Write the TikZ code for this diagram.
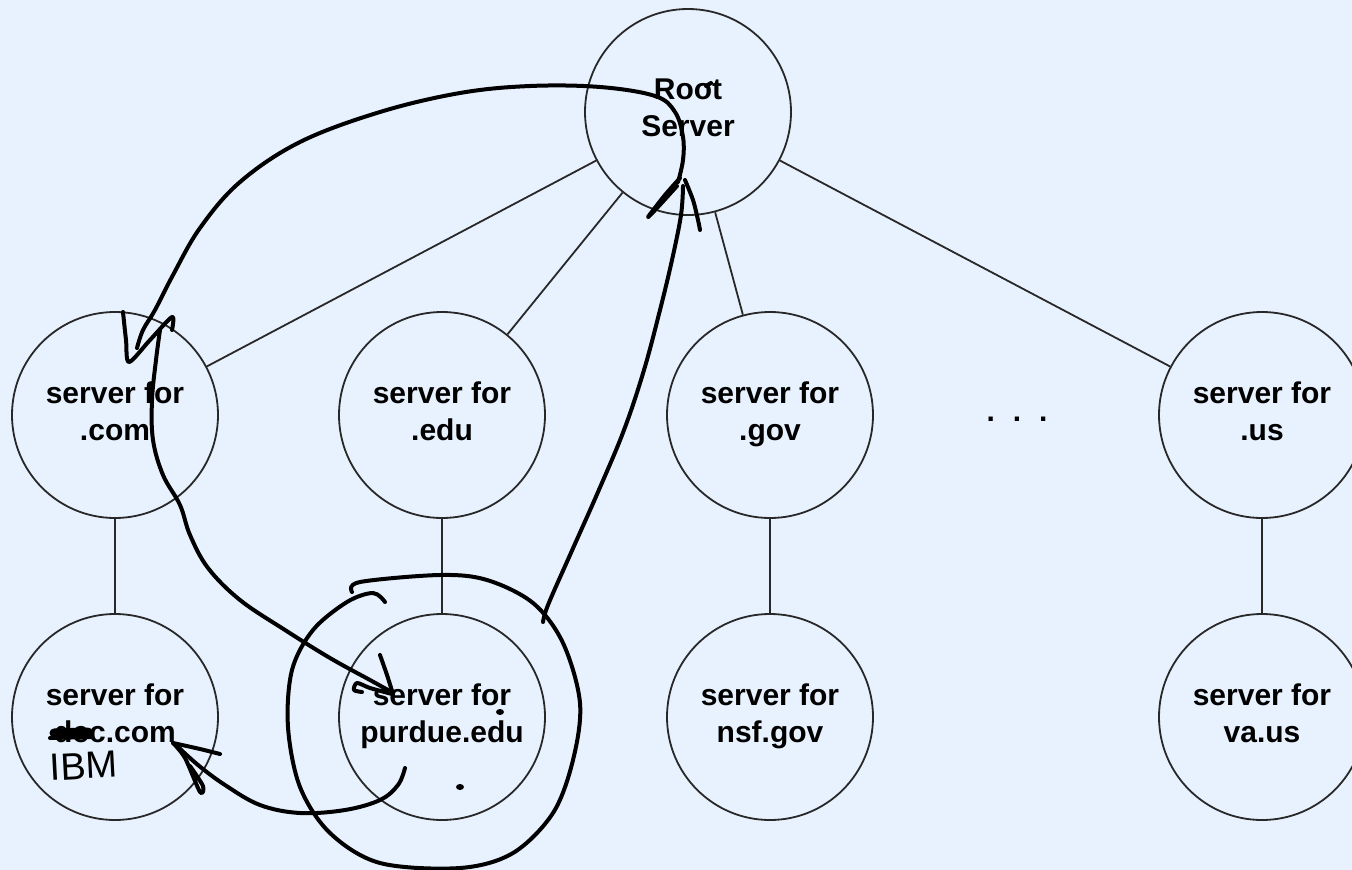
\documentclass[tikz,border=0pt]{standalone}
\usepackage{fontspec}
\setmainfont{Liberation Sans}
\definecolor{bg}{RGB}{232,242,254}
\definecolor{edge}{RGB}{40,40,40}
\tikzset{
  srv/.style={circle,draw=edge,line width=1.8pt,minimum size=206pt,inner sep=0pt},
  lbl/.style={align=center,text=black,text depth=0pt,yshift=4pt,font=\fontsize{30}{37}\selectfont\bfseries},
  link/.style={draw=edge,line width=1.8pt},
  ink/.style={draw=black,line width=4pt,line cap=round,line join=round},
}
\begin{document}
\begin{tikzpicture}[x=1pt,y=-1pt]
\useasboundingbox (0,0) rectangle (1352,870);
\clip (0,0) rectangle (1352,870);
\fill[bg] (0,0) rectangle (1352,870);

\node[srv,label={[lbl]center:Root\\Server}] (root) at (688,112) {};
\node[srv,label={[lbl]center:server for\\.com}] (com) at (115,415) {};
\node[srv,label={[lbl]center:server for\\.edu}] (edu) at (442,415) {};
\node[srv,label={[lbl]center:server for\\.gov}] (gov) at (770,415) {};
\node[srv,label={[lbl]center:server for\\.us}] (us) at (1262,415) {};
\node[srv,label={[lbl]center:server for\\dec.com}] (dec) at (115,717) {};
\node[srv,label={[lbl]center:server for\\purdue.edu}] (purdue) at (442,717) {};
\node[srv,label={[lbl]center:server for\\nsf.gov}] (nsf) at (770,717) {};
\node[srv,label={[lbl]center:server for\\va.us}] (va) at (1262,717) {};
\node[anchor=base,font=\fontsize{30}{37}\selectfont\bfseries] (dots) at (1017,421) {.\hspace{18pt}.\hspace{18pt}.};

\draw[link] (root) -- (com);
\draw[link] (root) -- (edu);
\draw[link] (root) -- (gov);
\draw[link] (root) -- (us);
\draw[link] (com) -- (dec);
\draw[link] (edu) -- (purdue);
\draw[link] (gov) -- (nsf);
\draw[link] (us) -- (va);

% handwritten annotations
% root -> .com
\draw[ink] plot[smooth,tension=0.6] coordinates {(678,182) (683,160) (683,137) (675,112) (655,96) (600,87) (530,86) (460,93) (380,112) (300,142) (240,182) (200,228) (173,275) (155,310) (143,330) (137,348)};
\draw[ink] plot[smooth,tension=0.5] coordinates {(123,312) (126,340) (129,362) (150,340) (172,317) (172,330)};
\draw[ink] (711,83) -- (706,86);
% .com -> purdue
\draw[ink] plot[smooth,tension=0.6] coordinates {(160,330) (156,360) (152,400) (153,440) (163,475) (180,505) (190,535) (208,568) (240,600) (285,630) (330,658) (370,680) (388,690)};
\draw[ink] plot[smooth,tension=0.5] coordinates {(380,655) (387,675) (393,694)};
\draw[ink] plot[smooth,tension=0.5] coordinates {(392,694) (370,688) (357,683) (354,690) (362,692)};
% purdue -> root
\draw[ink] plot[smooth,tension=0.6] coordinates {(543,622) (548,605) (570,555) (598,492) (624,430) (644,370) (660,310) (672,260) (681,215) (683,186)};
\draw[ink] plot[smooth,tension=0.5] coordinates {(680,178) (665,195) (648,217) (657,208) (677,186)};
\draw[ink] plot[smooth,tension=0.5] coordinates {(685,180) (693,200) (698,220) (700,230)};
% purdue -> dec.com
\draw[ink] plot[smooth,tension=0.6] coordinates {(405,768) (398,785) (380,800) (345,810) (300,813) (260,805) (225,785) (198,765) (176,745)};
\draw[ink] plot[smooth,tension=0.5] coordinates {(173,743) (200,749) (220,754)};
\draw[ink] plot[smooth,tension=0.5] coordinates {(173,743) (185,758) (200,792) (203,786) (190,766)};
% circle round purdue
\draw[ink] plot[smooth,tension=0.55] coordinates {(352,592) (360,582) (440,575) (487,580) (533,603) (563,643) (580,703) (573,760) (553,813) (513,853) (460,868) (380,863) (330,833) (300,787) (288,727) (292,670) (313,630) (347,602) (373,593) (385,602)};
% dots
\fill (500,712) ellipse (4 and 3);
\fill (460,787) ellipse (4 and 3);
% scribble over "de"
\draw[black,line width=9pt,line cap=round] (54,733) -- (88,732);
\draw[black,line width=4pt,line cap=round] (50,738) -- (92,737);
\node[font=\fontsize{38}{38}\selectfont,text=black,rotate=3,inner sep=0pt] (ibm) at (84,766) {IBM};
\end{tikzpicture}
\end{document}
